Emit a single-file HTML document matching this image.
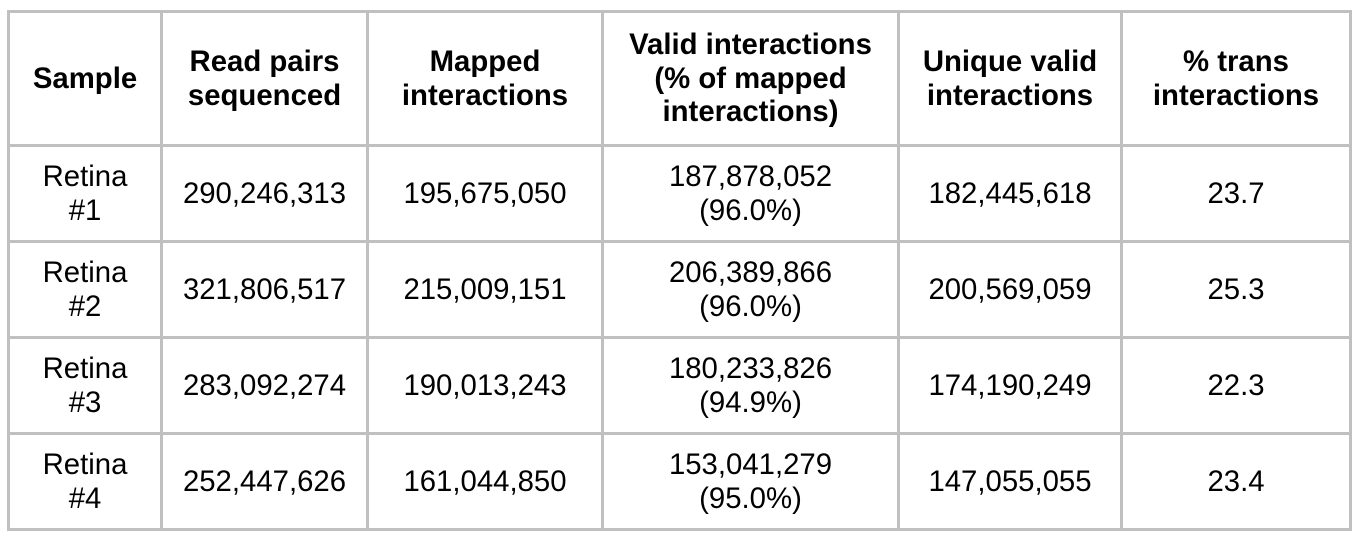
<!DOCTYPE html>
<html>
<head>
<meta charset="utf-8">
<style>
  html, body { margin: 0; padding: 0; background: #ffffff; }
  body { width: 1360px; height: 538px; position: relative; overflow: hidden;
         font-family: "Liberation Sans", Arial, sans-serif; color: #000; }
  .v { position: absolute; top: 10px; height: 521px; width: 3px; background: #c0c0c0; }
  .h { position: absolute; left: 7px; width: 1345px; height: 3px; background: #c0c0c0; }
  .c { position: absolute; display: flex; align-items: center; justify-content: center;
       text-align: center; font-size: 29.33px; line-height: 33.7px; }
  .b { font-weight: bold; }
</style>
</head>
<body>
  <!-- vertical lines -->
  <div class="v" style="left:7px"></div>
  <div class="v" style="left:160px"></div>
  <div class="v" style="left:366px"></div>
  <div class="v" style="left:601px"></div>
  <div class="v" style="left:897px"></div>
  <div class="v" style="left:1120px"></div>
  <div class="v" style="left:1349px"></div>
  <!-- horizontal lines -->
  <div class="h" style="top:10px"></div>
  <div class="h" style="top:144px"></div>
  <div class="h" style="top:240px"></div>
  <div class="h" style="top:336px"></div>
  <div class="h" style="top:432px"></div>
  <div class="h" style="top:528px"></div>

  <!-- header row: interior y 13..144 -->
  <div class="c b" style="left:10px;width:150px;top:13px;height:131px;">Sample</div>
  <div class="c b" style="left:163px;width:203px;top:13px;height:131px;">Read pairs<br>sequenced</div>
  <div class="c b" style="left:369px;width:232px;top:13px;height:131px;">Mapped<br>interactions</div>
  <div class="c b" style="left:604px;width:293px;top:13px;height:131px;">Valid interactions<br>(% of mapped<br>interactions)</div>
  <div class="c b" style="left:900px;width:220px;top:13px;height:131px;">Unique valid<br>interactions</div>
  <div class="c b" style="left:1123px;width:226px;top:13px;height:131px;">% trans<br>interactions</div>

  <!-- row 1: 147..240 -->
  <div class="c" style="left:10px;width:150px;top:147px;height:93px;">Retina<br>#1</div>
  <div class="c" style="left:163px;width:203px;top:147px;height:93px;">290,246,313</div>
  <div class="c" style="left:369px;width:232px;top:147px;height:93px;">195,675,050</div>
  <div class="c" style="left:604px;width:293px;top:147px;height:93px;">187,878,052<br>(96.0%)</div>
  <div class="c" style="left:900px;width:220px;top:147px;height:93px;">182,445,618</div>
  <div class="c" style="left:1123px;width:226px;top:147px;height:93px;">23.7</div>

  <!-- row 2: 243..336 -->
  <div class="c" style="left:10px;width:150px;top:243px;height:93px;">Retina<br>#2</div>
  <div class="c" style="left:163px;width:203px;top:243px;height:93px;">321,806,517</div>
  <div class="c" style="left:369px;width:232px;top:243px;height:93px;">215,009,151</div>
  <div class="c" style="left:604px;width:293px;top:243px;height:93px;">206,389,866<br>(96.0%)</div>
  <div class="c" style="left:900px;width:220px;top:243px;height:93px;">200,569,059</div>
  <div class="c" style="left:1123px;width:226px;top:243px;height:93px;">25.3</div>

  <!-- row 3: 339..432 -->
  <div class="c" style="left:10px;width:150px;top:339px;height:93px;">Retina<br>#3</div>
  <div class="c" style="left:163px;width:203px;top:339px;height:93px;">283,092,274</div>
  <div class="c" style="left:369px;width:232px;top:339px;height:93px;">190,013,243</div>
  <div class="c" style="left:604px;width:293px;top:339px;height:93px;">180,233,826<br>(94.9%)</div>
  <div class="c" style="left:900px;width:220px;top:339px;height:93px;">174,190,249</div>
  <div class="c" style="left:1123px;width:226px;top:339px;height:93px;">22.3</div>

  <!-- row 4: 435..528 -->
  <div class="c" style="left:10px;width:150px;top:435px;height:93px;">Retina<br>#4</div>
  <div class="c" style="left:163px;width:203px;top:435px;height:93px;">252,447,626</div>
  <div class="c" style="left:369px;width:232px;top:435px;height:93px;">161,044,850</div>
  <div class="c" style="left:604px;width:293px;top:435px;height:93px;">153,041,279<br>(95.0%)</div>
  <div class="c" style="left:900px;width:220px;top:435px;height:93px;">147,055,055</div>
  <div class="c" style="left:1123px;width:226px;top:435px;height:93px;">23.4</div>
</body>
</html>
